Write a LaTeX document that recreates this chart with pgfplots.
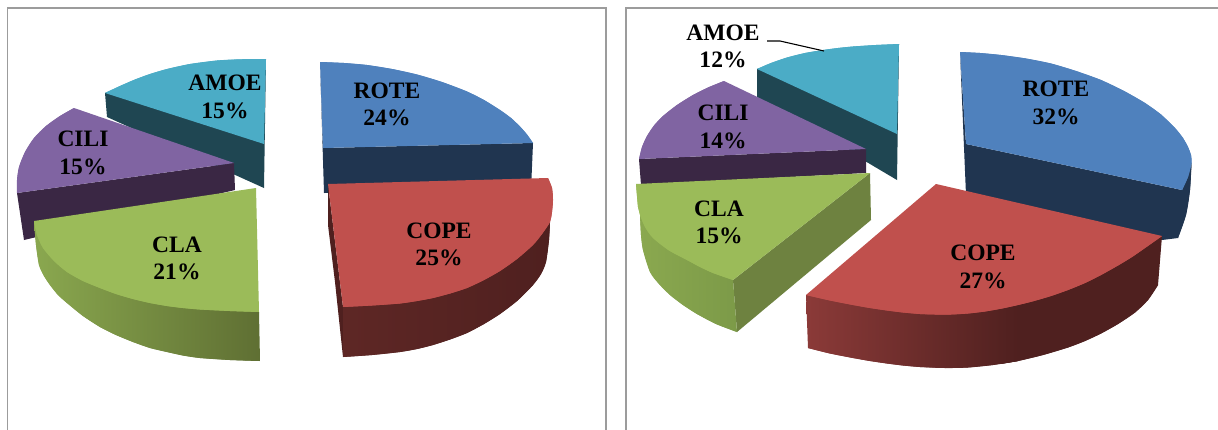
\documentclass[border=0pt]{standalone}
\usepackage{pgfplots}
\pgfplotsset{compat=1.18}
\usepackage{fontspec}
\setmainfont{Liberation Serif}
\definecolor{rt}{HTML}{4F81BD}\definecolor{rs}{HTML}{203550}
\definecolor{ct}{HTML}{C0504D}\definecolor{cs}{HTML}{4F201F}
\definecolor{cm}{HTML}{5E2725}\definecolor{cl}{HTML}{8B3A38}
\definecolor{lt}{HTML}{9BBB59}\definecolor{ls}{HTML}{6E8240}
\definecolor{l1}{HTML}{8AA84F}\definecolor{l2}{HTML}{5F6F33}\definecolor{l3}{HTML}{7C9A48}
\definecolor{it}{HTML}{8064A2}\definecolor{is}{HTML}{3A2744}
\definecolor{at}{HTML}{4BACC6}\definecolor{as}{HTML}{1F4652}
\definecolor{fr}{HTML}{9C9C9C}
\tikzset{lab/.style={font=\fontsize{23.6}{27.5}\selectfont\bfseries,align=center,text=black,inner sep=0pt}}
% #1 fill options, #2 points along the curved rim, #3 the straight corners that close the face
\newcommand\face[3]{%
  \addplot[#1,draw=none,smooth,tension=0.55] coordinates {#2};
  \addplot[#1,draw=none,sharp plot] coordinates {#2 #3};}
\begin{document}
\begin{tikzpicture}
\begin{axis}[scale only axis,width=1218bp,height=430bp,xmin=0,xmax=1218,ymin=0,ymax=430,y dir=reverse,hide axis,clip=true]
\addplot[fill=white,draw=none] coordinates {(0,0)(1218,0)(1218,430)(0,430)} --cycle;
% frames
\addplot[fr,line width=1.6bp] coordinates {(7.5,430)(7.5,8)(606,8)(606,430)};
\addplot[fr,line width=1.6bp] coordinates {(626,430)(626,8)(1218,8)};
% LEFT: AMOE
\addplot[fill=as,draw=none] coordinates {(105,93)(107,117)(264,188)(266,59)} --cycle;
\face{fill=at}{(105,93)(120,86)(135,79.5)(150,74)(167,69)(190,64)(217,60.5)(240,59.3)(266,59)}{(264,144)}
% LEFT: CILI
\addplot[fill=is,draw=none] coordinates {(17,193)(234,163)(235,190)(24,240)} --cycle;
\face{fill=it}{(74,108)(60,116)(46,126)(34,138)(25,152)(19,167)(17,180)(17,193)}{(234,163)}
% LEFT: CLA
\face{left color=l1,right color=l2}{(34,221)(36,245)(39,265)(44,276)(50,285)(58,295)(67,303)(83,316)(100,327)(116,335)(133,342)(150,348)(167,352)(183,355.5)(200,358)(230,360)(260,361)}{(259,312)}
\face{fill=lt}{(34,221)(37,235)(43,248)(54,261)(67,272)(83,281)(100,288)(116,294)(133,299)(150,303)(167,306)(183,308)(200,309.5)(230,311)(259,312)}{(256,188)}
% LEFT: ROTE
\addplot[fill=rs,draw=none] coordinates {(320,62)(323,148)(533,143)(531,190)(324,193)} --cycle;
\face{fill=rt}{(320,62)(344,63)(367,65)(392,69)(417,74.5)(442,82)(467,91.5)(484,100)(500,110)(511,118)(520,126.5)(527,134.5)(533,143)}{(323,148)}
% LEFT: COPE
\addplot[fill=cs,draw=none] coordinates {(328,184)(343,307)(343,357)(335,282)(328,225)} --cycle;
\face{left color=cm,right color=cs}{(550,222)(549,240)(546,262)(541,274)(533,285)(517,301)(500,314)(484,324)(467,333)(450,339.5)(433,345)(417,349)(400,352)(372,355)(343,357)}{(343,307)}
\face{fill=ct}{(548,178)(552,188)(553,200)(552,212)(550,222)(542,234)(533,245)(517,259)(500,271)(484,280)(467,288)(450,293.5)(433,298)(417,301)(400,303.5)(372,305.5)(343,307)}{(328,184)}
% RIGHT: AMOE
\addplot[fill=as,draw=none] coordinates {(757,69)(757,97)(897,180)(899,44)} --cycle;
\face{fill=at}{(757,69)(771,63)(787,57.5)(805,53)(823,50)(838,48)(853,46.5)(876,45)(899,44)}{(897,134)}
% RIGHT: CILI
\addplot[fill=is,draw=none] coordinates {(639,159)(866,149)(866,173)(641,185)} --cycle;
\face{fill=it}{(724,81)(708,87.5)(693,95)(677,105)(663,116)(654,125.5)(647,136)(642,147)(639,159)}{(866,149)}
% RIGHT: CLA
\addplot[fill=ls,draw=none] coordinates {(870,173)(733,280)(737,332)(871,220)} --cycle;
\face{left color=l1,right color=l3}{(640,215)(641,235)(643,250)(650,272)(659,284)(670,295)(683,305)(697,314)(716,324)(737,332)}{(733,280)}
\face{fill=lt}{(636,184)(638,207)(640,215)(645,227)(653,238)(669,250.5)(687,260)(700,267)(713,273)(733,280)}{(870,173)}
% RIGHT: ROTE
\face{fill=rs}{(1191.5,163)(1190,190)(1186,215)(1178,238)}{(1162,240)(966,195)(960,52)(966,144)(1182,190)}
\face{fill=rt}{(960,52)(980,53)(1001,55)(1026,58.5)(1051,63.5)(1076,71)(1101,80)(1124,91)(1145,103)(1161,114.5)(1175,128)(1183,138)(1188,147)(1191,155)(1191.5,163)(1188,177)(1182,190)}{(966,144)}
% RIGHT: COPE
\face{fill=cs}{(1000,364)(1018,361)(1043,355)(1068,347.5)(1085,341)(1101,333.5)(1118,324)(1135,312.5)(1148,300)(1158,285)}{(1162,236)(1000,310)}
\face{left color=cl,right color=cs}{(808,348)(830,353.5)(853,358)(870,361)(887,363.5)(903,365.5)(920,367)(945,368)(968,367.5)(993,365)(1018,361)}{(1018,305)(806,295)}
\face{fill=ct}{(806,295)(830,300.5)(853,305)(870,308)(887,310.5)(903,312.5)(920,314)(935,314.5)(951,314.5)(968,313.5)(985,311.5)(1002,308.5)(1018,305)(1034,301)(1051,296)(1068,290)(1085,283)(1101,275)(1118,265.5)(1132,257)(1145,248)(1162,236)}{(936,184)}
% leader
\addplot[black,line width=1.1bp] coordinates {(767,41)(780,41)(824,51)};
% labels
\node[lab] at (axis cs:387,104.5) {ROTE\\24\%};
\node[lab] at (axis cs:439,244.5) {COPE\\25\%};
\node[lab] at (axis cs:177,258.5) {CLA\\21\%};
\node[lab] at (axis cs:83,153) {CILI\\15\%};
\node[lab] at (axis cs:225,97) {AMOE\\15\%};
\node[lab] at (axis cs:1056,103) {ROTE\\32\%};
\node[lab] at (axis cs:983,267) {COPE\\27\%};
\node[lab] at (axis cs:719,222.5) {CLA\\15\%};
\node[lab] at (axis cs:723,127) {CILI\\14\%};
\node[lab] at (axis cs:723,46.5) {AMOE\\12\%};
\end{axis}
\end{tikzpicture}
\end{document}
